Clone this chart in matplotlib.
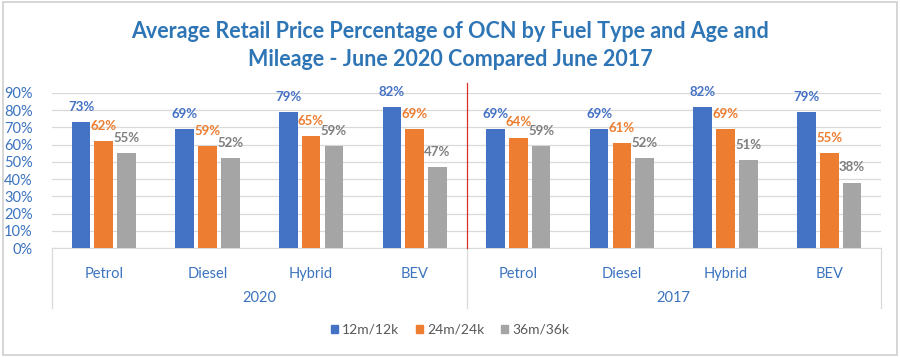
import matplotlib
matplotlib.use('Agg')
import matplotlib.pyplot as plt
from matplotlib.patches import Rectangle, Patch
from matplotlib.transforms import blended_transform_factory
import numpy as np

# data
years = ['2020', '2017']
fuels = ['Petrol', 'Diesel', 'Hybrid', 'BEV']
series = ['12m/12k', '24m/24k', '36m/36k']
v12 = [73, 69, 79, 82, 69, 69, 82, 79]
v24 = [62, 59, 65, 69, 64, 61, 69, 55]
v36 = [55, 52, 59, 47, 59, 52, 51, 38]

bar_cols = ['#4472C4', '#ED7D31', '#A5A5A5']
lab_cols = ['#4472C4', '#ED7D31', '#7F7F7F']
txtblue = '#3B73BF'

plt.rcParams['font.family'] = ['Lato', 'DejaVu Sans']

fig = plt.figure(figsize=(9, 3.57), dpi=100)
ax = fig.add_axes([52/900, 1-248/357, (881-52)/900, (248-93)/357])

n = len(v12)
x = np.arange(n)
w = 0.18
step = 0.22
for i, vals in enumerate([v12, v24, v36]):
    xs = x + (i-1)*step
    ax.bar(xs, [v/100 for v in vals], width=w, color=bar_cols[i], zorder=3)
    for xx, v in zip(xs, vals):
        ax.annotate('%d%%' % v, (xx, v/100), xytext=(0, 11), textcoords='offset points',
                    ha='center', va='center', fontsize=9.5, fontweight='bold',
                    color=lab_cols[i], zorder=4)

ax.set_xlim(-0.5, n-0.5)
ax.set_ylim(0, 0.9)
ax.set_yticks(np.arange(0, 0.91, 0.1))
ax.set_yticklabels(['%d%%' % t for t in range(0, 91, 10)])
ax.yaxis.grid(True, color='#D9D9D9', linewidth=0.9, zorder=0)
ax.tick_params(axis='y', length=0, labelsize=10.5, labelcolor=txtblue, pad=14)
ax.set_xticks(x)
ax.set_xticklabels(fuels * 2)
ax.tick_params(axis='x', length=0, labelsize=10.5, labelcolor=txtblue, pad=14)
for s in ['top', 'right', 'left']:
    ax.spines[s].set_visible(False)
ax.spines['bottom'].set_color('#D9D9D9')

trans = blended_transform_factory(ax.transData, ax.transAxes)
for xv in [-0.5, 3.5, n-0.5]:
    ax.plot([xv, xv], [0, -60/155], transform=trans, color='#D9D9D9',
            linewidth=0.9, clip_on=False)
for k, yr in enumerate(years):
    ax.text(1.5 + 4*k, -50/155, yr, transform=trans, ha='center', va='center',
            fontsize=10.5, color=txtblue)
# red divider between the two years
ax.plot([3.5, 3.5], [0, 165/155], transform=trans, color='#D9302C',
        linewidth=0.9, clip_on=False, zorder=5)

fig.text(0.5, 1-32/357, 'Average Retail Price Percentage of OCN by Fuel Type and Age and',
         ha='center', va='center', fontsize=15.5, fontweight='bold', color='#2E75B6')
fig.text(0.5, 1-59/357, 'Mileage - June 2020 Compared June 2017',
         ha='center', va='center', fontsize=15.5, fontweight='bold', color='#2E75B6')

handles = [Patch(color=c) for c in bar_cols]
fig.legend(handles, series, loc='center', bbox_to_anchor=(0.5, 1-330/357), ncol=3,
           frameon=False, fontsize=10, handlelength=0.5, handleheight=0.5,
           handletextpad=0.3, columnspacing=1.2, labelcolor='#595959')

fig.patches.append(Rectangle((0.003, 0.006), 0.994, 0.988, transform=fig.transFigure,
                             fill=False, edgecolor='#D0D0D0', linewidth=1.2))

fig.savefig('out.png', dpi=100)
